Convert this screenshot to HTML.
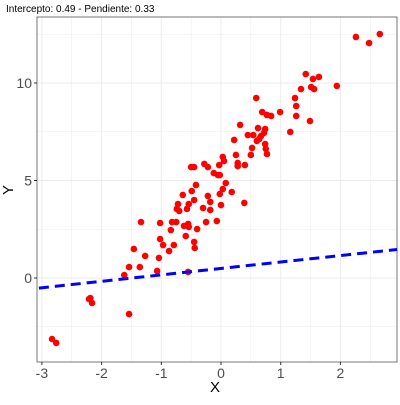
<!DOCTYPE html>
<html><head><meta charset="utf-8"><style>
body{margin:0;background:#fff;width:400px;height:400px;overflow:hidden;font-family:"Liberation Sans",sans-serif}
</style></head><body>
<svg id="chart" width="400" height="400" xmlns="http://www.w3.org/2000/svg">
<text x="6" y="12" font-size="10" fill="#000">Intercepto: 0.49 - Pendiente: 0.33</text>
<g id="grid"></g><g id="axes"></g><g id="marks"></g>
<text x="215" y="392" font-size="15" text-anchor="middle">X</text>
<text x="13" y="190" font-size="15" text-anchor="middle" transform="rotate(-90 13 190)">Y</text>
</svg>
<script>
const xs=[-2.83,-2.76,-2.19,-2.21,-2.16,-1.54,-1.62,-1.54,-1.46,-1.36,-1.27,-1.34,-1.07,-1.04,-1.02,-0.97,-1.02,-0.87,-0.84,-0.82,-0.79,-0.75,-0.64,-0.72,-0.74,-0.70,-0.59,-0.62,-0.55,-0.54,-0.55,-0.45,-0.44,-0.40,-0.57,-0.54,-0.49,-0.45,-0.42,-0.50,-0.45,-0.28,-0.22,-0.30,-0.25,-0.22,-0.18,-0.18,-0.07,-0.12,-0.05,-0.02,-0.03,0.03,0.05,0.08,0.03,-0.02,0.0,2.26,2.48,2.66,1.94,1.42,1.54,1.64,1.51,1.56,1.34,1.24,1.26,1.26,1.49,1.16,0.99,0.59,0.69,0.77,0.84,0.32,0.62,0.74,0.45,0.54,0.72,0.67,0.64,0.60,0.22,0.52,0.74,0.75,0.77,0.50,0.25,0.28,0.28,0.40,0.18,0.39];
const ys=[-3.13,-3.33,-1.03,-1.08,-1.28,-1.85,0.15,0.56,1.49,0.56,1.13,2.87,0.36,1.03,2.0,1.69,2.82,1.38,2.46,2.87,1.69,2.87,4.26,3.79,3.54,3.44,2.15,2.67,2.77,2.62,0.31,1.85,1.54,2.51,3.54,3.79,4.46,4.0,4.77,5.69,5.69,5.85,5.69,3.59,2.87,4.21,3.90,3.49,2.92,5.38,5.28,5.28,5.79,6.21,6.0,4.87,4.56,4.31,3.74,12.36,12.05,12.51,9.85,10.46,10.21,10.31,9.79,9.69,9.69,9.23,8.82,8.31,8.05,7.49,8.51,9.23,8.51,8.36,8.31,7.85,7.69,7.64,7.33,7.33,7.44,7.28,7.13,7.03,7.08,6.67,6.87,6.62,6.36,6.31,6.31,5.90,5.74,5.79,4.41,3.85];
const xTicks=[-3,-2,-1,0,1,2];
const yTicks=[0,5,10];
const intercept=0.49, slope=0.33;
const NS="http://www.w3.org/2000/svg";
const L=37,R=397,T=17,B=362;
const sx=v=>221+v*59.7, sy=v=>278-v*19.5;
function mk(tag,attrs,parent){const e=document.createElementNS(NS,tag);for(const k in attrs)e.setAttribute(k,attrs[k]);document.getElementById(parent).appendChild(e);return e;}
for(let v=-3;v<=2.5;v+=0.5){const e=mk('line',{x1:sx(v),x2:sx(v),y1:T,y2:B,stroke:'#ebebeb','stroke-width':Number.isInteger(v)?0.9:0.5},'grid');

}
for(let v=-2.5;v<=12.5;v+=2.5){const e=mk('line',{x1:L,x2:R,y1:sy(v),y2:sy(v),stroke:'#ebebeb','stroke-width':v%5===0?0.9:0.5},'grid');

}
const fr=mk('rect',{x:L,y:T,width:R-L,height:B-T,fill:'none',stroke:'#555','stroke-width':0.8},'axes');


xTicks.forEach(v=>{mk('line',{x1:sx(v),x2:sx(v),y1:B,y2:B+3,stroke:'#333'},'axes');
const t=mk('text',{x:sx(v),y:B+16,'font-size':14,'text-anchor':'middle',fill:'#4d4d4d'},'axes');t.textContent=v;

});
yTicks.forEach(v=>{mk('line',{x1:L-3,x2:L,y1:sy(v),y2:sy(v),stroke:'#333'},'axes');
const t=mk('text',{x:L-5,y:sy(v)+5,'font-size':14,'text-anchor':'end',fill:'#4d4d4d'},'axes');t.textContent=v;

});
xs.forEach((x,i)=>{const c=mk('circle',{cx:sx(x),cy:sy(ys[i]),r:3.3,fill:'#ff0000'},'marks');

});
const x0=-3.05,x1=2.95;
const ln=mk('line',{x1:sx(x0),y1:sy(intercept+slope*x0),x2:sx(x1),y2:sy(intercept+slope*x1),stroke:'#0000ff','stroke-width':3,'stroke-dasharray':'10,6'},'marks');


</script>
</body></html>
